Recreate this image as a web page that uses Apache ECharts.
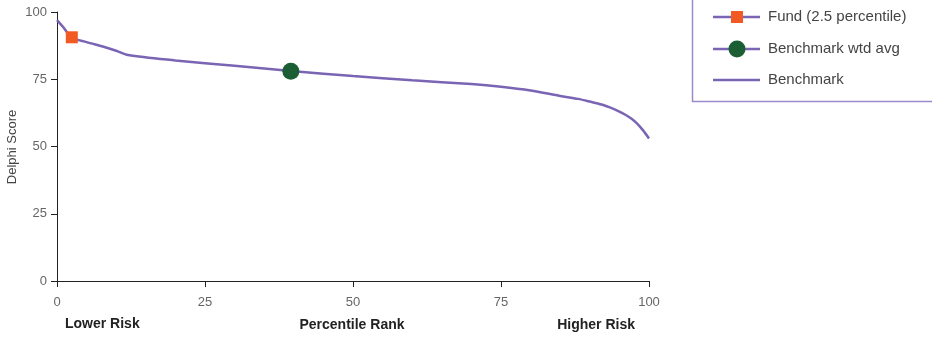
<!DOCTYPE html>
<html>
<head>
<meta charset="utf-8">
<script src="https://cdn.jsdelivr.net/npm/echarts@6/dist/echarts.min.js"></script>
<style>html,body{margin:0;padding:0;background:#fff}#c{width:932px;height:337px}</style>
</head>
<body>
<div id="c"></div>
<script>
const percentiles = [0, 1, 2.5, 5, 8, 10, 12, 20, 30, 40, 50, 60, 70, 75, 80, 85, 88, 90, 92, 94, 95, 96, 97, 98, 99, 100];
const benchmarkValues = [97, 94.5, 90.5, 88.8, 87, 85.6, 84, 82, 80, 78, 76.2, 74.6, 73.2, 72.2, 70.8, 68.8, 67.7, 66.7, 65.6, 64, 63, 61.8, 60.4, 58.5, 56, 53];
const fundPoint = [2.5, 90.6];
const benchAvgPoint = [39.5, 78];
const yTicks = [0, 25, 50, 75, 100];
const xTicks = [0, 25, 50, 75, 100];
const seriesNames = ['Fund (2.5 percentile)', 'Benchmark wtd avg', 'Benchmark'];

const purple = '#7a64b4';
const orange = '#f15a22';
const green = '#1b5e33';
const font = 'Liberation Sans, Arial, sans-serif';

// legend drawn as graphic elements (not data marks)
const legendRows = [17, 49, 80];
const legendGraphics = [
  { type: 'rect', shape: { x: 692.5, y: -5, width: 245, height: 106.5 }, style: { fill: 'none', stroke: '#9a8ccc', lineWidth: 1.5 }, silent: true }
];
seriesNames.forEach((name, i) => {
  const y = legendRows[i];
  legendGraphics.push({ type: 'line', shape: { x1: 713, y1: y, x2: 760, y2: y }, style: { stroke: purple, lineWidth: 2.5 }, silent: true });
  if (i === 0) legendGraphics.push({ type: 'rect', shape: { x: 731, y: y - 6, width: 12, height: 12 }, style: { fill: orange }, silent: true });
  if (i === 1) legendGraphics.push({ type: 'circle', shape: { cx: 737, cy: y, r: 8.5 }, style: { fill: green }, silent: true });
  legendGraphics.push({ type: 'text', x: 768, y: y, style: { text: name, font: '15px ' + font, fill: '#444', verticalAlign: 'middle' }, silent: true });
});

const chart = echarts.init(document.getElementById('c'));
chart.setOption({
  animation: false,
  textStyle: { fontFamily: font },
  grid: { left: 57, right: 283, top: 12, bottom: 56, containLabel: false, outerBoundsMode: 'none' },
  xAxis: {
    type: 'value', min: 0, max: 100, interval: 25,
    axisLine: { lineStyle: { color: '#222', width: 1 } },
    axisTick: { show: true, length: 6, lineStyle: { color: '#222' } },
    axisLabel: { color: '#666', fontSize: 13, margin: 15 },
    splitLine: { show: false }
  },
  yAxis: {
    type: 'value', min: 0, max: 100, interval: 25,
    axisLine: { show: true, lineStyle: { color: '#222', width: 1 } },
    axisTick: { show: true, length: 6, lineStyle: { color: '#222' } },
    axisLabel: { color: '#666', fontSize: 13, margin: 10 },
    splitLine: { show: false }
  },
  graphic: legendGraphics.concat([
    { type: 'text', x: 12, y: 147, rotation: Math.PI / 2, style: { text: 'Delphi Score', font: '13px ' + font, fill: '#444', align: 'center', verticalAlign: 'middle' } },
    { type: 'text', left: 65, top: 317, style: { text: 'Lower Risk', font: 'bold 14px ' + font, fill: '#222' } },
    { type: 'text', x: 352, y: 325, style: { text: 'Percentile Rank', font: 'bold 14px ' + font, fill: '#222', align: 'center', verticalAlign: 'middle' } },
    { type: 'text', x: 635, y: 325, style: { text: 'Higher Risk', font: 'bold 14px ' + font, fill: '#222', align: 'right', verticalAlign: 'middle' } }
  ]),
  series: [
    {
      name: seriesNames[2], type: 'line', smooth: 0.3, showSymbol: false, symbol: 'none',
      data: percentiles.map((p, i) => [p, benchmarkValues[i]]),
      lineStyle: { color: purple, width: 2.5 }, itemStyle: { color: purple }, z: 2
    },
    {
      name: seriesNames[0], type: 'line', symbol: 'rect', symbolSize: 12,
      data: [fundPoint],
      lineStyle: { color: purple, width: 2 }, itemStyle: { color: orange }, z: 3
    },
    {
      name: seriesNames[1], type: 'line', symbol: 'circle', symbolSize: 17,
      data: [benchAvgPoint],
      lineStyle: { color: purple, width: 2 }, itemStyle: { color: green }, z: 3
    }
  ]
});
</script>
</body>
</html>
